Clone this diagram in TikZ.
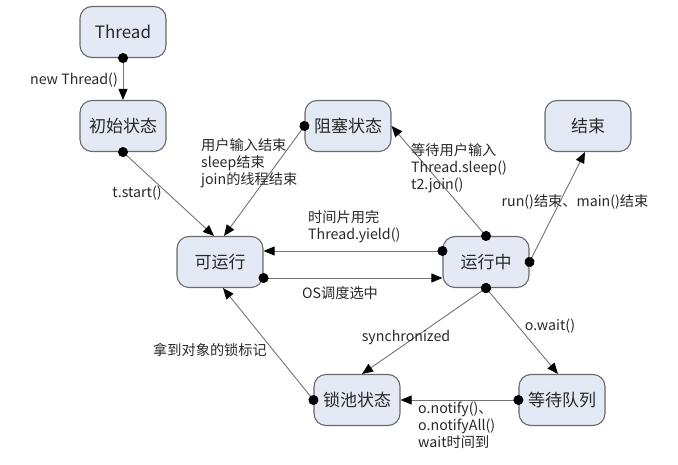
\documentclass[tikz,border=0pt]{standalone}
\usepackage{fontspec}
\setmainfont{Noto Sans CJK SC}
\usetikzlibrary{arrows.meta}
\definecolor{boxfill}{RGB}{228,234,245}
\definecolor{boxline}{RGB}{105,105,105}
\definecolor{lineg}{RGB}{115,115,115}
\definecolor{txt}{RGB}{40,40,40}
\begin{document}
\begin{tikzpicture}[x=1pt,y=-1pt,
 state/.style={draw=boxline, fill=boxfill, line width=1.1pt, rounded corners=12pt, minimum width=86pt, minimum height=51pt, font=\fontsize{17}{20}\selectfont, text=txt, inner sep=0pt},
 lbl/.style={font=\fontsize{14.2}{17}\selectfont, text=txt, inner sep=0pt, align=left},
 conn/.style={draw=lineg, line width=0.9pt, {Circle[length=10pt,black]}-{Triangle[length=11pt,width=9pt,black]}, shorten <=-5pt}]
\useasboundingbox (0,0) rectangle (678,465);
% states
\node[state] (thr) at (123,32) {Thread};
\node[state] (ini) at (123,126) {初始状态};
\node[state] (blk) at (348,126) {阻塞状态};
\node[state] (fin) at (588,126) {结束};
\node[state] (run) at (220,262) {可运行};
\node[state] (rng) at (486,262) {运行中};
\node[state] (lock) at (357,400) {锁池状态};
\node[state] (wait) at (562,400) {等待队列};
% connectors
\draw[conn] (thr.south) -- (ini.north);
\draw[conn] (ini.south) -- ([xshift=-6pt]run.north);
\draw[conn] (blk.west) -- ([xshift=4pt]run.north);
\draw[conn] (rng.north) -- (blk.east);
\draw[conn] (rng.east) -- ([xshift=-3pt]fin.south);
\draw[conn] ([yshift=11pt]rng.west) -- ([yshift=11pt]run.east);
\draw[conn] ([yshift=-16pt]run.east) -- ([yshift=-16pt]rng.west);
\draw[conn] (rng.south) -- ([xshift=5pt]lock.north);
\draw[conn] (rng.south) -- ([xshift=-4pt]wait.north);
\draw[conn] (wait.west) -- (lock.east);
\draw[conn] (lock.west) -- ([xshift=3pt]run.south);
% labels
\node[lbl, anchor=east] (l1) at (118,80) {new Thread()};
\node[lbl] (l2) at (137,193) {t.start()};
\node[lbl, anchor=west] (l3) at (201,163) {用户输入结束\\sleep结束\\join的线程结束};
\node[lbl, anchor=west] (l4) at (411,168) {等待用户输入\\Thread.sleep()\\t2.join()};
\node[lbl] (l5) at (575,202) {run()结束、main()结束};
\node[lbl, anchor=west] (l6) at (308,227) {时间片用完\\Thread.yield()};
\node[lbl] (l7) at (340,293) {OS调度选中};
\node[lbl] (l8) at (406,338) {synchronized};
\node[lbl] (l9) at (550,326) {o.wait()};
\node[lbl, anchor=west] (l10) at (418,425) {o.notify()、\\o.notifyAll()\\wait时间到};
\node[lbl] (l11) at (210,350) {拿到对象的锁标记};
\end{tikzpicture}
\end{document}
